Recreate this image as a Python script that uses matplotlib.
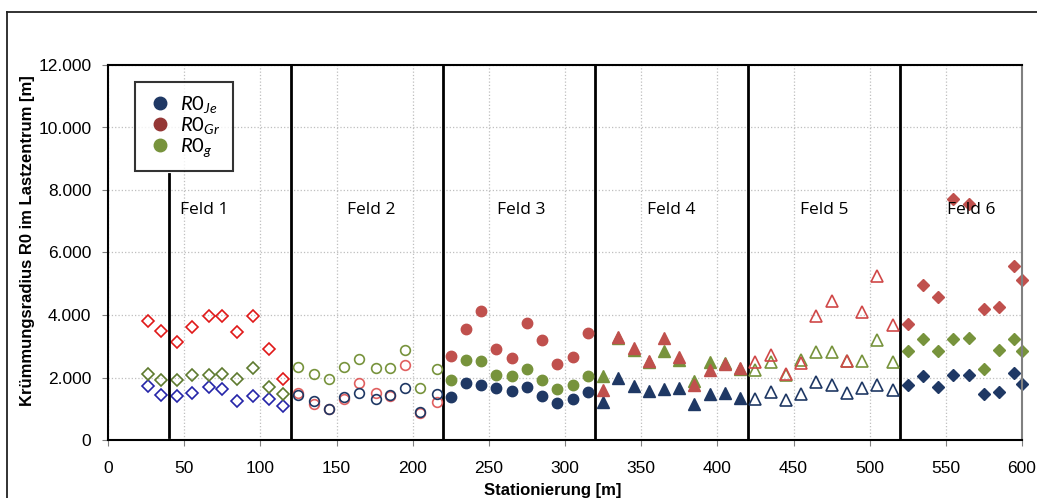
import matplotlib
matplotlib.use("Agg")
import matplotlib.pyplot as plt
from matplotlib.ticker import FuncFormatter, MultipleLocator
from matplotlib.lines import Line2D

plt.rcParams['font.family'] = ['Liberation Sans', 'DejaVu Sans']
plt.rcParams['mathtext.fontset'] = 'custom'
plt.rcParams['mathtext.it'] = 'Lato:italic'
plt.rcParams['mathtext.rm'] = 'Lato'

# ---- data (station [m], radius [m]) ----
x1 = [26, 35, 45, 55, 66, 75, 85, 95, 106, 115]
je1 = [1730, 1450, 1400, 1510, 1700, 1630, 1240, 1420, 1300, 1090]
gr1 = [3820, 3490, 3140, 3620, 3980, 3980, 3450, 3980, 2900, 1950]
g1 = [2100, 1930, 1920, 2070, 2080, 2110, 1940, 2320, 1690, 1470]

x2 = [125, 135, 145, 155, 165, 176, 185, 195, 205, 216]
je2 = [1430, 1250, 1000, 1390, 1500, 1310, 1440, 1650, 910, 1480]
gr2 = [1490, 1140, 980, 1300, 1820, 1490, 1410, 2400, 850, 1220]
g2 = [2340, 2120, 1940, 2340, 2580, 2310, 2300, 2880, 1660, 2280]

x3 = [225, 235, 245, 255, 265, 275, 285, 295, 305, 315]
je3 = [1390, 1840, 1770, 1650, 1580, 1690, 1410, 1180, 1300, 1540]
gr3 = [2690, 3540, 4120, 2920, 2620, 3760, 3200, 2420, 2660, 3410]
g3 = [1930, 2550, 2520, 2070, 2060, 2280, 1920, 1640, 1750, 2060]

x4 = [325, 335, 345, 355, 365, 375, 385, 395, 405, 415]
je4 = [1230, 2000, 1720, 1560, 1640, 1650, 1150, 1460, 1520, 1330]
gr4 = [1600, 3310, 2930, 2540, 3250, 2670, 1750, 2240, 2440, 2290]
g4 = [2060, 3250, 2880, 2500, 2840, 2560, 1900, 2490, 2460, 2270]

x5 = [425, 435, 445, 455, 465, 475, 485, 495, 505, 515]
je5 = [1310, 1540, 1270, 1470, 1860, 1770, 1500, 1660, 1750, 1610]
gr5 = [2500, 2710, 2110, 2450, 3980, 4450, 2520, 4100, 5240, 3690]
g5 = [2240, 2500, 2070, 2550, 2830, 2830, 2520, 2530, 3210, 2510]

x6 = [525, 535, 545, 555, 565, 575, 585, 595, 600]
je6 = [1770, 2050, 1710, 2070, 2070, 1470, 1550, 2130, 1790]
gr6 = [3700, 4960, 4570, 7720, 7540, 4190, 4270, 5570, 5120]
g6 = [2840, 3220, 2840, 3220, 3250, 2280, 2870, 3240, 2850]

field_bounds = [120, 220, 320, 420, 520]
field_labels = ["Feld 1", "Feld 2", "Feld 3", "Feld 4", "Feld 5", "Feld 6"]
field_label_x = [63, 173, 271, 370, 470, 567]
field_label_y = 7350
marker_line_x = 40
marker_line_top = 8500

legend_labels = [r'$R0_{Je}$', r'$R0_{Gr}$', r'$R0_{g}$']

NAVY = '#1F3864'
RED = '#C0504D'
GREEN = '#77933C'

fig = plt.figure(figsize=(10.37, 4.98), dpi=100)
ax = fig.add_axes([108/1037, 58/498, 914/1037, 375/498])

# outer frame (top and left visible)
fig.add_artist(Line2D([7/1037, 7/1037], [0, 1 - 12/498], transform=fig.transFigure, color='#222222', lw=1.3))
fig.add_artist(Line2D([7/1037, 1], [1 - 12/498, 1 - 12/498], transform=fig.transFigure, color='#222222', lw=1.3))

ms = 7
# Field 1: open diamonds
ax.plot(x1, je1, 'D', ms=6, mfc='none', mec='#2424A8', mew=1.2, ls='none')
ax.plot(x1, g1, 'D', ms=6, mfc='none', mec='#5E7A2E', mew=1.2, ls='none')
ax.plot(x1, gr1, 'D', ms=6, mfc='none', mec='#E01818', mew=1.2, ls='none')
# Field 2: open circles
ax.plot(x2, g2, 'o', ms=ms, mfc='none', mec=GREEN, mew=1.2, ls='none')
ax.plot(x2, gr2, 'o', ms=ms, mfc='none', mec='#E06060', mew=1.2, ls='none')
ax.plot(x2, je2, 'o', ms=ms, mfc='none', mec=NAVY, mew=1.2, ls='none')
# Field 3: filled circles
ax.plot(x3, je3, 'o', ms=ms+0.5, color=NAVY, ls='none')
ax.plot(x3, g3, 'o', ms=ms+0.5, color=GREEN, ls='none')
ax.plot(x3, gr3, 'o', ms=ms+0.5, color=RED, ls='none')
# Field 4: filled triangles
ax.plot(x4, je4, '^', ms=ms+1, color=NAVY, ls='none')
ax.plot(x4, g4, '^', ms=ms+1, color=GREEN, ls='none')
ax.plot(x4, gr4, '^', ms=ms+1, color=RED, ls='none')
# Field 5: open triangles
ax.plot(x5, je5, '^', ms=ms+1, mfc='none', mec=NAVY, mew=1.2, ls='none')
ax.plot(x5, g5, '^', ms=ms+1, mfc='none', mec=GREEN, mew=1.2, ls='none')
ax.plot(x5, gr5, '^', ms=ms+1, mfc='none', mec='#D04848', mew=1.2, ls='none')
# Field 6: filled diamonds
ax.plot(x6, je6, 'D', ms=6, color=NAVY, ls='none', clip_on=False)
ax.plot(x6, g6, 'D', ms=6, color=GREEN, ls='none', clip_on=False)
ax.plot(x6, gr6, 'D', ms=6, color=RED, ls='none', clip_on=False)

for xb in field_bounds:
    ax.axvline(xb, color='black', lw=2, zorder=1)
ax.plot([marker_line_x, marker_line_x], [100, marker_line_top], color='black', lw=2)

for lx, lab in zip(field_label_x, field_labels):
    ax.text(lx, field_label_y, lab, ha='center', va='center', fontsize=12.5, family='Open Sans')

ax.set_xlim(0, 600)
ax.set_ylim(0, 12000)
ax.xaxis.set_major_locator(MultipleLocator(50))
ax.yaxis.set_major_locator(MultipleLocator(2000))
ax.yaxis.set_major_formatter(FuncFormatter(lambda v, p: f"{v:,.0f}".replace(',', '.')))
ax.grid(True, color='#BFBFBF', ls=':', lw=0.9)
ax.set_axisbelow(True)
ax.tick_params(axis='both', labelsize=12.5, length=4, color='#808080', direction='out')
ax.tick_params(axis='x', pad=11)
ax.tick_params(axis='y', pad=8)
for s in ['left', 'bottom', 'top']:
    ax.spines[s].set_color('black')
    ax.spines[s].set_linewidth(1.5)
ax.spines['right'].set_color('#808080')
ax.spines['right'].set_linewidth(1.5)

ax.set_xlabel('Stationierung [m]', fontsize=12, fontweight='bold', labelpad=3)
ax.xaxis.set_label_coords(0.486, -0.115)
ax.set_ylabel('Krümmungsradius R0 im Lastzentrum [m]', fontsize=12, fontweight='bold')
ax.yaxis.set_label_coords(-0.080, 0.532)

handles = [Line2D([], [], marker='o', ls='none', ms=9, color=c) for c in [NAVY, '#953735', GREEN]]
leg = ax.legend(handles, legend_labels, loc='upper left', bbox_to_anchor=(0.0295, 0.955),
                frameon=True, fancybox=False, fontsize=14.5, handletextpad=0.35,
                borderpad=0.6, labelspacing=0.0, handlelength=1.3, borderaxespad=0)
leg.get_frame().set_edgecolor('black')
leg.get_frame().set_linewidth(1.5)

fig.savefig('out.png', dpi=100)
